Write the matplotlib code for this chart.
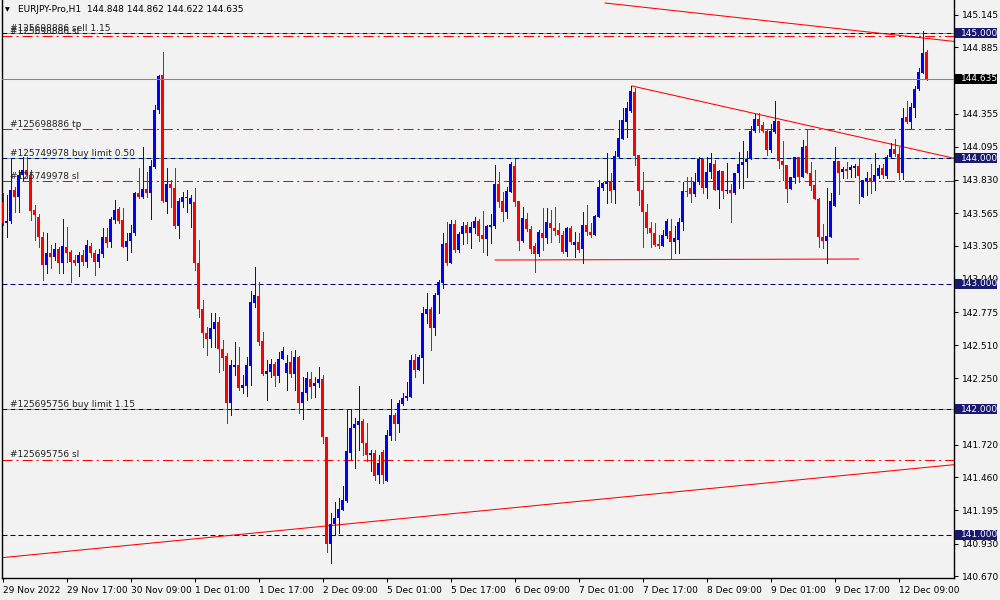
import matplotlib
matplotlib.use("Agg")
import matplotlib.pyplot as plt
import matplotlib.transforms as mtransforms
from matplotlib.patches import Rectangle
import numpy as np

plt.rcParams['font.family'] = ['DejaVu Sans']
plt.rcParams['lines.scale_dashes'] = False

# EURJPY H1 candles, 29 Nov 2022 01:00 .. 12 Dec 2022 10:00
opens = [
    143.656, 143.484, 143.500, 143.749, 143.696, 143.869, 143.909, 143.869,
    143.590, 143.537, 143.377, 143.152, 143.245, 143.213, 143.276, 143.170,
    143.292, 143.258, 143.191, 143.170, 143.231, 143.178, 143.303, 143.250,
    143.178, 143.239, 143.372, 143.335, 143.510, 143.595, 143.510, 143.298,
    143.345, 143.404, 143.723, 143.691, 143.754, 143.723, 143.935, 144.387,
    144.665, 143.656, 143.797, 143.762, 143.465, 143.656, 143.683, 143.640,
    143.656, 143.165, 142.798, 142.607, 142.559, 142.639, 142.700, 142.480,
    142.427, 142.055, 142.341, 142.355, 142.174, 142.190, 142.349, 142.851,
    142.904, 142.546, 142.283, 142.302, 142.363, 142.267, 142.400, 142.293,
    142.376, 142.280, 142.421, 142.054, 142.129, 142.240, 142.187, 142.214,
    142.243, 141.778, 140.926, 141.088, 141.133, 141.199, 141.274, 141.656,
    141.850, 141.877, 141.908, 141.730, 141.635, 141.651, 141.478, 141.659,
    141.433, 141.789, 141.956, 141.885, 142.044, 142.089, 142.102, 142.395,
    142.315, 142.408, 142.761, 142.798, 142.652, 142.912, 143.011, 143.324,
    143.170, 143.478, 143.271, 143.398, 143.470, 143.403, 143.449, 143.502,
    143.390, 143.356, 143.457, 143.462, 143.794, 143.661, 143.576, 143.735,
    143.943, 143.661, 143.342, 143.515, 143.438, 143.300, 143.239, 143.403,
    143.364, 143.483, 143.449, 143.430, 143.390, 143.257, 143.449, 143.311,
    143.337, 143.279, 143.470, 143.417, 143.390, 143.536, 143.767, 143.794,
    143.810, 143.749, 144.014, 144.155, 144.293, 144.378, 144.527, 144.028,
    143.749, 143.576, 143.449, 143.403, 143.316, 143.305, 143.385, 143.420,
    143.337, 143.350, 143.491, 143.741, 143.762, 143.717, 143.810, 143.994,
    143.763, 143.895, 143.954, 143.749, 143.903, 143.744, 143.749, 143.723,
    143.882, 143.949, 143.975, 143.994, 144.219, 144.312, 144.267, 144.222,
    144.068, 144.209, 144.299, 143.980, 143.949, 143.757, 143.848, 144.010,
    143.856, 144.100, 143.888, 143.789, 143.678, 143.377, 143.346, 143.377,
    143.624, 143.980, 143.895, 143.917, 143.909, 143.927, 143.941, 143.696,
    143.824, 143.842, 143.824, 143.864, 143.922, 143.864, 144.015, 144.076,
    144.033, 143.882, 144.334, 144.288, 144.405, 144.554, 144.679, 144.848,
]
highs = [
    143.723, 143.709, 144.001, 143.776, 143.909, 144.015, 144.015, 143.909,
    143.630, 143.558, 143.417, 143.404, 143.311, 143.324, 143.298, 143.515,
    143.457, 143.271, 143.231, 143.258, 143.271, 143.351, 143.329, 143.271,
    143.276, 143.444, 143.444, 143.537, 143.670, 143.616, 143.603, 143.404,
    143.470, 143.736, 143.922, 144.089, 143.895, 143.988, 144.426, 144.665,
    144.849, 143.922, 143.829, 143.922, 143.683, 143.736, 143.749, 143.709,
    143.762, 143.351, 142.873, 142.660, 142.766, 142.766, 142.740, 142.554,
    142.448, 142.395, 142.541, 142.501, 142.275, 142.421, 142.947, 143.138,
    143.019, 142.620, 142.395, 142.400, 142.381, 142.461, 142.495, 142.435,
    142.469, 142.474, 142.430, 142.262, 142.302, 142.302, 142.262, 142.341,
    142.275, 141.784, 141.178, 141.266, 141.292, 141.391, 142.001, 142.001,
    141.930, 142.187, 141.922, 141.895, 141.677, 141.677, 141.638, 141.677,
    141.837, 142.081, 141.970, 142.076, 142.134, 142.222, 142.434, 142.442,
    142.434, 142.814, 142.926, 142.814, 142.931, 143.032, 143.409, 143.497,
    143.510, 143.510, 143.417, 143.497, 143.496, 143.496, 143.536, 143.520,
    143.581, 143.470, 143.555, 143.948, 143.895, 143.735, 143.775, 143.969,
    143.996, 143.661, 143.616, 143.563, 143.460, 143.324, 143.430, 143.608,
    143.603, 143.589, 143.616, 143.483, 143.422, 143.457, 143.465, 143.417,
    143.403, 143.576, 143.629, 143.483, 143.550, 143.828, 143.815, 144.041,
    143.881, 144.059, 144.306, 144.399, 144.452, 144.577, 144.559, 144.028,
    143.895, 143.634, 143.496, 143.483, 143.390, 143.430, 143.518, 143.518,
    143.465, 143.523, 143.815, 143.855, 143.855, 143.881, 144.010, 143.994,
    144.015, 144.041, 143.988, 143.909, 143.903, 143.962, 143.794, 143.882,
    144.055, 144.140, 144.060, 144.259, 144.352, 144.360, 144.294, 144.230,
    144.275, 144.458, 144.299, 144.140, 143.949, 143.856, 144.015, 144.015,
    144.148, 144.227, 143.975, 143.909, 143.683, 143.476, 143.768, 143.723,
    144.095, 143.980, 143.935, 143.975, 143.949, 143.954, 144.007, 143.829,
    143.895, 143.954, 144.041, 143.949, 143.954, 144.028, 144.121, 144.156,
    144.095, 144.400, 144.458, 144.440, 144.581, 144.724, 145.016, 144.862,
]
lows = [
    143.470, 143.377, 143.485, 143.577, 143.577, 143.829, 143.856, 143.510,
    143.351, 143.298, 143.032, 143.085, 143.125, 143.191, 143.085, 143.085,
    143.178, 143.019, 143.152, 143.064, 143.152, 143.138, 143.218, 143.072,
    143.138, 143.218, 143.298, 143.298, 143.484, 143.484, 143.298, 143.191,
    143.258, 143.391, 143.683, 143.683, 143.696, 143.515, 143.922, 144.360,
    143.656, 143.563, 143.616, 143.444, 143.369, 143.616, 143.577, 143.457,
    143.112, 142.740, 142.501, 142.434, 142.501, 142.501, 142.302, 142.315,
    141.895, 141.956, 142.275, 142.155, 142.129, 142.108, 142.195, 142.819,
    142.514, 142.275, 142.076, 142.262, 142.187, 142.222, 142.400, 142.155,
    142.262, 142.155, 141.975, 141.922, 142.076, 142.089, 142.102, 142.182,
    141.731, 140.867, 140.777, 141.000, 141.013, 141.199, 141.266, 141.603,
    141.537, 141.677, 141.638, 141.592, 141.513, 141.438, 141.417, 141.412,
    141.433, 141.757, 141.757, 141.823, 142.036, 142.076, 142.102, 142.262,
    142.315, 142.214, 142.692, 142.474, 142.594, 142.772, 142.966, 143.151,
    143.165, 143.258, 143.258, 143.319, 143.324, 143.284, 143.403, 143.340,
    143.257, 143.231, 143.324, 143.449, 143.616, 143.502, 143.523, 143.735,
    143.624, 143.271, 143.337, 143.420, 143.244, 143.093, 143.220, 143.271,
    143.324, 143.337, 143.390, 143.337, 143.249, 143.225, 143.320, 143.217,
    143.257, 143.164, 143.390, 143.377, 143.390, 143.536, 143.749, 143.642,
    143.656, 143.642, 144.001, 144.155, 144.174, 144.373, 143.948, 143.629,
    143.297, 143.403, 143.297, 143.305, 143.290, 143.300, 143.364, 143.200,
    143.244, 143.244, 143.430, 143.700, 143.656, 143.700, 143.800, 143.723,
    143.683, 143.842, 143.749, 143.603, 143.683, 143.723, 143.492, 143.715,
    143.763, 143.763, 143.856, 143.994, 144.209, 144.209, 144.209, 144.028,
    144.055, 144.201, 143.927, 143.829, 143.651, 143.757, 143.802, 143.810,
    143.856, 143.888, 143.749, 143.678, 143.298, 143.284, 143.165, 143.372,
    143.624, 143.715, 143.842, 143.842, 143.856, 143.856, 143.648, 143.696,
    143.709, 143.723, 143.749, 143.842, 143.848, 143.848, 144.015, 144.023,
    143.837, 143.837, 144.281, 144.246, 144.334, 144.546, 144.679, 144.622,
]
closes = [
    143.484, 143.502, 143.749, 143.696, 143.869, 143.909, 143.869, 143.584,
    143.547, 143.372, 143.152, 143.245, 143.213, 143.276, 143.165, 143.303,
    143.250, 143.178, 143.170, 143.231, 143.178, 143.311, 143.250, 143.178,
    143.239, 143.372, 143.329, 143.515, 143.590, 143.505, 143.298, 143.345,
    143.404, 143.723, 143.691, 143.754, 143.723, 143.940, 144.387, 144.658,
    143.664, 143.797, 143.762, 143.465, 143.664, 143.691, 143.696, 143.683,
    143.165, 142.798, 142.607, 142.559, 142.647, 142.700, 142.480, 142.408,
    142.055, 142.355, 142.355, 142.174, 142.195, 142.355, 142.859, 142.912,
    142.541, 142.283, 142.307, 142.363, 142.267, 142.402, 142.466, 142.368,
    142.280, 142.421, 142.054, 142.137, 142.248, 142.182, 142.214, 142.243,
    141.778, 140.926, 141.088, 141.133, 141.205, 141.279, 141.672, 141.850,
    141.882, 141.908, 141.730, 141.635, 141.651, 141.473, 141.571, 141.478,
    141.797, 141.956, 141.885, 142.054, 142.094, 142.108, 142.395, 142.315,
    142.421, 142.766, 142.798, 142.652, 142.912, 143.013, 143.319, 143.170,
    143.478, 143.271, 143.398, 143.462, 143.403, 143.457, 143.502, 143.382,
    143.356, 143.465, 143.470, 143.794, 143.656, 143.576, 143.741, 143.953,
    143.656, 143.342, 143.523, 143.438, 143.279, 143.239, 143.417, 143.364,
    143.496, 143.443, 143.422, 143.390, 143.257, 143.449, 143.337, 143.337,
    143.271, 143.470, 143.411, 143.390, 143.544, 143.775, 143.802, 143.810,
    143.741, 144.022, 144.160, 144.306, 144.399, 144.538, 144.022, 143.741,
    143.576, 143.449, 143.403, 143.311, 143.305, 143.390, 143.502, 143.337,
    143.364, 143.491, 143.741, 143.735, 143.717, 143.810, 143.993, 143.763,
    143.895, 143.962, 143.749, 143.903, 143.744, 143.749, 143.723, 143.882,
    143.954, 143.975, 143.994, 144.219, 144.312, 144.262, 144.222, 144.068,
    144.222, 144.299, 143.980, 143.949, 143.757, 143.850, 144.010, 143.856,
    144.095, 143.888, 143.784, 143.678, 143.372, 143.346, 143.385, 143.662,
    143.980, 143.888, 143.917, 143.903, 143.935, 143.943, 143.861, 143.829,
    143.842, 143.824, 143.869, 143.922, 143.869, 144.015, 144.076, 144.033,
    143.882, 144.320, 144.288, 144.413, 144.554, 144.687, 144.838, 144.635,
]

date_bars = [0, 16, 32, 48, 64, 80, 96, 112, 128, 144, 160, 176, 192, 208, 224]
date_labels = ['29 Nov 2022', '29 Nov 17:00', '30 Nov 09:00', '1 Dec 01:00',
               '1 Dec 17:00', '2 Dec 09:00', '5 Dec 01:00', '5 Dec 17:00',
               '6 Dec 09:00', '7 Dec 01:00', '7 Dec 17:00', '8 Dec 09:00',
               '9 Dec 01:00', '9 Dec 17:00', '12 Dec 09:00']
# scale ticks; the ones at 144.620 and 141.985 sit under the price boxes
price_ticks = [145.145, 144.885, 144.355, 144.095, 143.830, 143.565,
               143.305, 143.040, 142.775, 142.510, 142.250, 141.720,
               141.460, 141.195, 140.930, 140.670]

# pending orders (navy + green), stops / targets (red dash-dot), plain levels
pending_levels = [145.000, 144.000, 142.000]
stop_levels = [144.976, 144.235, 143.820, 141.600]
plain_levels = [143.000, 141.000]
boxed_levels = [145.000, 144.000, 143.000, 142.000, 141.000]
bid_price = 144.635
order_levels = [145.000, 144.976, 144.235, 144.000, 143.820, 142.000, 141.600]
order_labels = ['#125698886 sell 1.15', '#125698886 sl', '#125698886 tp',
                '#125749978 buy limit 0.50', '#125749978 sl',
                '#125695756 buy limit 1.15', '#125695756 sl']

# trend lines as (bar index, price) end points
trend_x = [[-0.175, 237.8], [150.6, 237.8], [157.3, 237.8], [123.1, 214.0]]
trend_y = [[140.819, 141.560], [145.239, 144.933], [144.578, 144.002], [143.191, 143.199]]

title = 'EURJPY-Pro,H1  144.848 144.862 144.622 144.635'

BG = '#f2f2f2'
NAVY = '#191970'
FS = 6.5

fig = plt.figure(figsize=(10, 6), dpi=100, facecolor=BG)
ax = fig.add_axes([0.002, 1 - 578 / 600, 0.952, 578 / 600])
ax.set_facecolor(BG)
ymin, ymax = 140.657, 145.263
ax.set_xlim(-0.175, 237.825)
ax.set_ylim(ymin, ymax)
dpp = (ymax - ymin) / 578.0  # price per pixel

x = np.arange(len(opens))
o = np.array(opens)
c = np.array(closes)
cols = np.where(c >= o, '#0000ff', '#ff0000')

# horizontal levels
for lv in pending_levels:
    ax.axhline(lv, color='#22bb22', lw=0.75, linestyle=(1.62, (1.08, 4.68)), zorder=1)
    ax.axhline(lv, color='#000080', lw=0.75, linestyle=(0, (3.6, 2.16)), zorder=1)
for lv in plain_levels:
    ax.axhline(lv, color='#000080', lw=0.75, linestyle=(0, (3.6, 2.16)), zorder=1)
for lv in stop_levels:
    ax.axhline(lv, color='#ff0000', lw=0.75, linestyle=(0, (7.2, 2.9, 1.44, 2.9)), zorder=1)

for tx, ty in zip(trend_x, trend_y):
    ax.plot(tx, ty, color='#ff0000', lw=0.75, zorder=1)

# candles
ax.vlines(x, lows, highs, colors=cols, lw=0.55, zorder=2, antialiased=False)
ax.bar(x, np.maximum(np.abs(c - o), dpp), bottom=np.minimum(o, c), width=0.8,
       color=cols, linewidth=0, zorder=3, antialiased=False)

ax.axhline(bid_price, color='#778899', lw=0.75, zorder=4)

# axes look
for s in ['left', 'bottom', 'right']:
    ax.spines[s].set_color('black')
    ax.spines[s].set_linewidth(1.0)
ax.spines['top'].set_visible(False)

ax.yaxis.tick_right()
ax.set_yticks(price_ticks)
ax.set_yticklabels(['%.3f' % p for p in price_ticks])
ax.tick_params(axis='y', direction='out', length=3, width=0.75, pad=2.5,
               labelsize=FS, colors='black')
ax.set_xticks(date_bars)
ax.set_xticklabels(date_labels)
ax.tick_params(axis='x', direction='out', length=3, width=0.75, pad=2.5,
               labelsize=FS, colors='black')
for lab in ax.get_xticklabels():
    lab.set_horizontalalignment('left')

bt = mtransforms.blended_transform_factory(fig.transFigure, ax.transData)

# order labels
for lv, lab in zip(order_levels, order_labels):
    fig.text(0.010, lv + 2.5 * dpp, lab, transform=bt, fontsize=FS,
             color='#222222', va='baseline', ha='left', zorder=5)

# price boxes on the axis
for lv in boxed_levels:
    fig.add_artist(Rectangle((0.955, lv - 5 * dpp), 0.042, 10 * dpp, transform=bt,
                             facecolor=NAVY, edgecolor='none', zorder=4))
    fig.text(0.9605, lv, '%.3f' % lv, transform=bt, fontsize=FS, color='white',
             va='center', ha='left', zorder=5)
fig.add_artist(Rectangle((0.955, bid_price - 5 * dpp), 0.042, 10 * dpp, transform=bt,
                         facecolor='black', edgecolor='none', zorder=4))
fig.text(0.9605, bid_price, '%.3f' % bid_price, transform=bt, fontsize=FS,
         color='white', va='center', ha='left', zorder=5)

# title
fig.text(0.005, 1 - 10 / 600, '\u25bc', fontsize=4.5, color='black', va='center', ha='left')
fig.text(0.018, 1 - 10 / 600, title, fontsize=FS, color='black', va='center', ha='left')

fig.savefig('out.png', dpi=100, facecolor=BG)
